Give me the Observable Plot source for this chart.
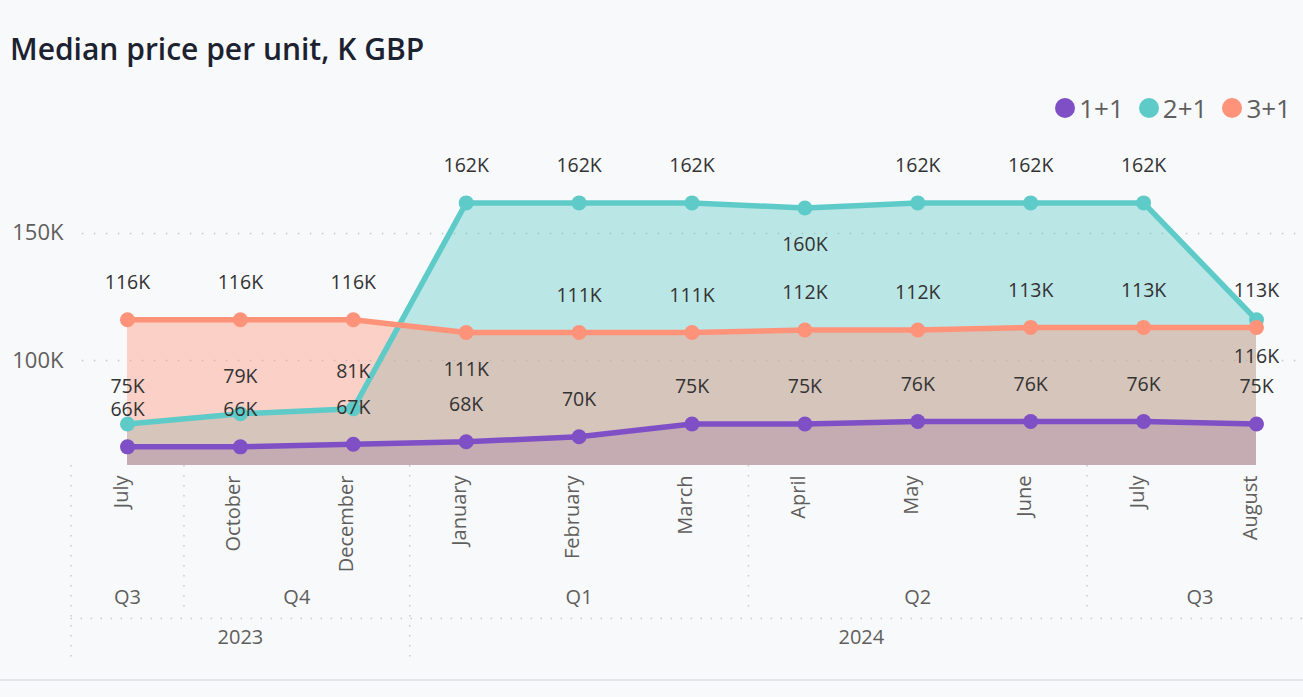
<!DOCTYPE html>
<html>
<head>
<meta charset="utf-8">
<script src="https://cdn.jsdelivr.net/npm/d3@7"></script>
<script src="https://cdn.jsdelivr.net/npm/@observablehq/plot@0.6"></script>
<style>
  html, body { margin: 0; padding: 0; }
  body { background: #f8f9fb; width: 1303px; height: 697px; overflow: hidden; position: relative; font-family: "Open Sans", "Noto Sans", sans-serif; }
  #title { position: absolute; left: 10px; top: 34px; font-size: 30px; line-height: 1; font-weight: 600; color: #1c2230; white-space: nowrap; }
  #legend { position: absolute; right: 12px; top: 94px; height: 28px; display: flex; align-items: center; gap: 15px; }
  .item { display: flex; align-items: center; gap: 4px; font-size: 26px; color: #605e5c; line-height: 1; }
  .sw { width: 20px; height: 20px; border-radius: 50%; display: inline-block; }
  #chart { position: absolute; left: 0; top: 130px; }
  #bottomline { position: absolute; left: 0; top: 679px; width: 1303px; height: 2px; background: #e4e5e8; }
</style>
</head>
<body>
<div id="title">Median price per unit, K GBP</div>
<div id="legend"></div>
<div id="chart"></div>
<div id="bottomline"></div>
<script>
// ---- data ----
const months = ["July", "October", "December", "January", "February", "March", "April", "May", "June", "July", "August"];
const quarters = ["Q3", "Q4", "Q4", "Q1", "Q1", "Q1", "Q2", "Q2", "Q2", "Q3", "Q3"];
const years = ["2023", "2023", "2023", "2024", "2024", "2024", "2024", "2024", "2024", "2024", "2024"];
const seriesNames = ["1+1", "2+1", "3+1"];
const values11 = [66, 66, 67, 68, 70, 75, 75, 76, 76, 76, 75];
const values21 = [75, 79, 81, 162, 162, 162, 160, 162, 162, 162, 116];
const values31 = [116, 116, 116, 111, 111, 111, 112, 112, 113, 113, 113];
const yTicks = [100, 150];
// data labels placed below their point (series -> month indices)
const labelsBelow = { "2+1": [6, 10], "3+1": [3] };

// ---- styles ----
const colors = { "1+1": "#7f4fc6", "2+1": "#5ecbc8", "3+1": "#fe937a" };
const yDomain = [58.66, 190.5];

// legend
const legend = document.getElementById("legend");
seriesNames.forEach(s => {
  const it = document.createElement("div");
  it.className = "item";
  it.innerHTML = `<span class="sw" style="background:${colors[s]}"></span><span>${s}</span>`;
  legend.appendChild(it);
});

// rows
const allValues = { "1+1": values11, "2+1": values21, "3+1": values31 };
const rows = [];
seriesNames.forEach(s => allValues[s].forEach((v, i) => rows.push({ i, series: s, value: v, below: (labelsBelow[s] || []).includes(i) })));

// hierarchical runs
function runs(keys, labels) {
  const out = [];
  keys.forEach((k, i) => {
    const last = out[out.length - 1];
    if (last && last.key === k) last.end = i;
    else out.push({ key: k, label: labels[i], start: i, end: i });
  });
  return out;
}
const quarterRuns = runs(quarters.map((q, i) => years[i] + q), quarters);
const yearRuns = runs(years, years);
const yearStarts = yearRuns.map(r => r.start - 0.5);
const quarterStarts = quarterRuns.map(r => r.start - 0.5).filter(b => !yearStarts.includes(b));

const W = 1303, H = 550, mL = 127, mR = 47, mT = 0, mB = 215;
const sepStyle = { stroke: "#c9c9c9", strokeWidth: 1.5, strokeDasharray: "1.5,8.5" };

const marks = [
  Plot.ruleY(yTicks, { y: d => d, x1: -0.4, x2: 10.6, stroke: "#c6c6c6", strokeWidth: 1.5, strokeDasharray: "1.5,10.5" }),
  Plot.axisY(yTicks, { tickSize: 0, tickPadding: 64, tickFormat: d => d + "K", fontSize: 22, fill: "#605e5c", label: null }),
  // areas
  ...seriesNames.map(s => Plot.areaY(rows.filter(d => d.series === s), { x: "i", y1: yDomain[0], y2: "value", fill: colors[s], fillOpacity: 0.4 })),
  // lines + dots
  ...seriesNames.flatMap(s => [
    Plot.line(rows.filter(d => d.series === s), { x: "i", y: "value", stroke: colors[s], strokeWidth: 5.5 }),
    Plot.dot(rows.filter(d => d.series === s), { x: "i", y: "value", r: 7.5, fill: colors[s] })
  ]),
  // data labels
  Plot.text(rows.filter(d => !d.below), { x: "i", y: "value", text: d => d.value + "K", dy: -37, fontSize: 19.5, fill: "#333333" }),
  Plot.text(rows.filter(d => d.below), { x: "i", y: "value", text: d => d.value + "K", dy: 37, fontSize: 19.5, fill: "#333333" }),
  // separators
  Plot.ruleX(quarterStarts, { x: d => d, insetTop: H - mB - mT, insetBottom: -145, ...sepStyle }),
  Plot.ruleX(yearStarts, { x: d => d, insetTop: H - mB - mT, insetBottom: -195, ...sepStyle }),
  Plot.ruleY([yDomain[0]], { y: d => d, x1: -0.5, x2: 10.6, dy: 153, ...sepStyle }),
  // month labels
  Plot.text(months, { x: (d, i) => i, text: d => d, frameAnchor: "bottom", dy: 10, rotate: -90, textAnchor: "end", fontSize: 20, fill: "#605e5c" }),
  // quarter labels
  Plot.text(quarterRuns, { x: d => (d.start + d.end) / 2, text: "label", frameAnchor: "bottom", dy: 138, fontSize: 20, fill: "#605e5c" }),
  // year labels
  Plot.text(yearRuns, { x: d => (d.start + d.end) / 2, text: "label", frameAnchor: "bottom", dy: 178, fontSize: 20, fill: "#605e5c" })
];

const chart = Plot.plot({
  width: W, height: H,
  marginLeft: mL, marginRight: mR, marginTop: mT, marginBottom: mB,
  x: { type: "linear", domain: [0, 10], axis: null },
  y: { domain: yDomain, axis: null },
  style: { background: "transparent", fontFamily: "'Open Sans', 'Noto Sans', sans-serif", fontSize: "19px" },
  marks
});
document.getElementById("chart").appendChild(chart);
</script>
</body>
</html>
